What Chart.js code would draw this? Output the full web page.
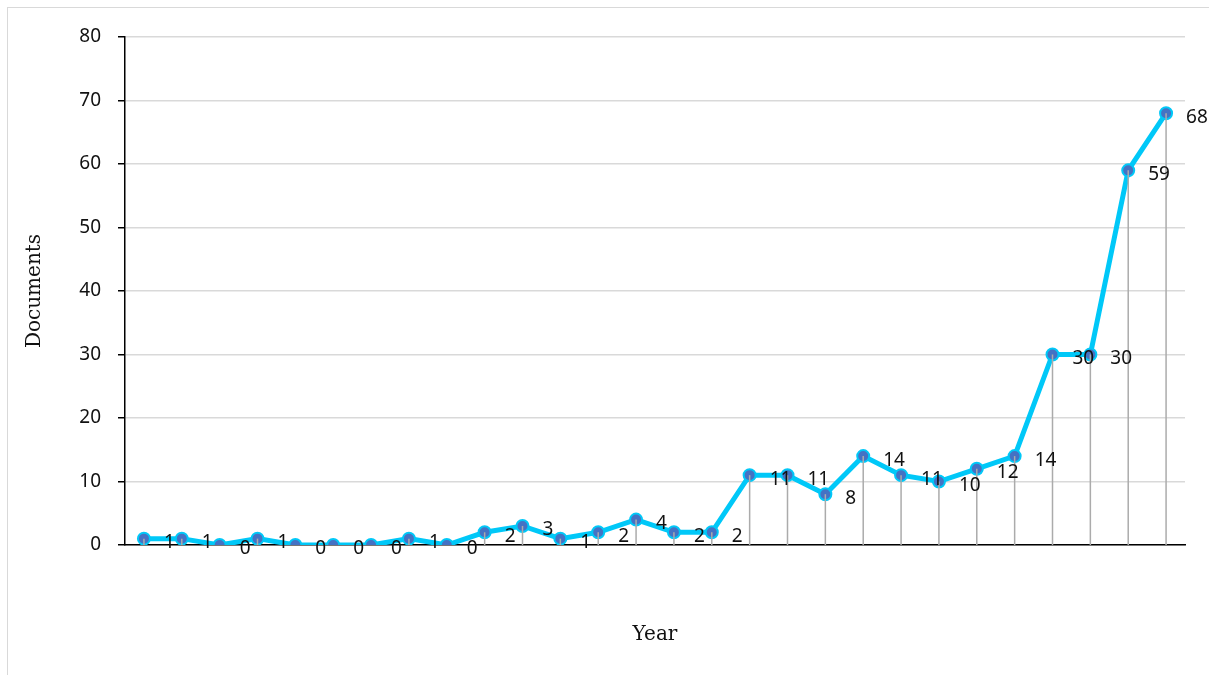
<!DOCTYPE html>
<html>
<head>
<meta charset="utf-8">
<script src="https://cdn.jsdelivr.net/npm/chart.js@4"></script>
<style>
  body { margin: 0; background: #fff; }
  #wrap { width: 1209px; height: 675px; position: relative; }
</style>
</head>
<body>
<div id="wrap"><canvas id="chart"></canvas></div>
<script>
// data (year labels are not shown on the axis)
var categories = ["1","2","3","4","5","6","7","8","9","10","11","12","13","14",
                  "15","16","17","18","19","20","21","22","23","24","25","26","27","28"];
var documents = [1,1,0,1,0,0,0,1,0,2,3,1,2,4,2,2,11,11,8,14,11,10,12,14,30,30,59,68];
var yTicks = [0,10,20,30,40,50,60,70,80];

var labelFont = '19px "Noto Sans"';

// light frame round the whole picture
var framePlugin = {
    id: 'frame',
    beforeDraw: function(chart) {
        var ctx = chart.ctx;
        ctx.save();
        ctx.fillStyle = '#fff';
        ctx.fillRect(0, 0, chart.width, chart.height);
        ctx.strokeStyle = '#d9d9d9';
        ctx.lineWidth = 1;
        ctx.strokeRect(7.5, 7.5, chart.width + 20, chart.height + 20);
        ctx.restore();
    }
};

// grey drop lines + value labels
var dropPlugin = {
    id: 'drops',
    afterDatasetsDraw: function(chart) {
        var ctx = chart.ctx;
        var meta = chart.getDatasetMeta(0);
        var y0 = chart.scales.y.getPixelForValue(0);
        ctx.save();
        ctx.strokeStyle = '#ababab';
        ctx.lineWidth = 1.5;
        meta.data.forEach(function(pt) {
            ctx.beginPath();
            ctx.moveTo(pt.x, pt.y);
            ctx.lineTo(pt.x, y0);
            ctx.stroke();
        });
        ctx.fillStyle = '#111';
        ctx.font = labelFont;
        ctx.textAlign = 'left';
        ctx.textBaseline = 'middle';
        meta.data.forEach(function(pt, i) {
            ctx.fillText(String(documents[i]), pt.x + 20, pt.y + 4);
        });
        ctx.restore();
    }
};

var ctx = document.getElementById('chart').getContext('2d');
new Chart(ctx, {
    type: 'line',
    data: {
        labels: categories,
        datasets: [{
            data: documents,
            borderColor: '#00c8f8',
            borderWidth: 5,
            pointRadius: 6,
            pointBackgroundColor: '#4472c4',
            pointBorderColor: '#00c8f8',
            pointBorderWidth: 2,
            tension: 0
        }]
    },
    options: {
        responsive: true,
        maintainAspectRatio: false,
        animation: false,
        events: [],
        layout: { padding: { left: 15, top: 37, right: 24, bottom: 10 } },
        plugins: {
            legend: { display: false },
            tooltip: { enabled: false }
        },
        scales: {
            x: {
                type: 'category',
                offset: true,
                grid: { display: false },
                border: { display: true, color: '#000', width: 1.5 },
                ticks: { display: false },
                title: {
                    display: true,
                    text: 'Year',
                    color: '#111',
                    font: { family: 'DejaVu Serif', size: 20 },
                    padding: { top: 0, bottom: 18 }
                },
                afterFit: function(scale) { scale.height = 120; }
            },
            y: {
                min: 0,
                max: 80,
                afterBuildTicks: function(scale) {
                    scale.ticks = yTicks.map(function(v) { return { value: v }; });
                },
                grid: {
                    color: '#d9d9d9',
                    lineWidth: 1.5,
                    tickColor: '#000',
                    tickLength: 7,
                    tickWidth: 1.5
                },
                border: { display: true, color: '#000', width: 1.5 },
                ticks: {
                    color: '#111',
                    font: { family: 'Noto Sans', size: 19 },
                    padding: 17
                },
                title: {
                    display: true,
                    text: 'Documents',
                    color: '#111',
                    font: { family: 'DejaVu Serif', size: 20 },
                    padding: { top: 8, bottom: 0 }
                },
                afterFit: function(scale) { scale.width = 110; }
            }
        }
    },
    plugins: [framePlugin, dropPlugin]
});
</script>
</body>
</html>
